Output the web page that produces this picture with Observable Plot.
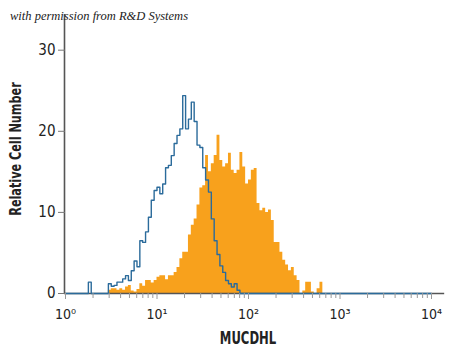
<!DOCTYPE html>
<html><head><meta charset="utf-8">
<script src="https://cdn.jsdelivr.net/npm/d3@7"></script>
<script src="https://cdn.jsdelivr.net/npm/@observablehq/plot@0.6"></script>
<style>
body{margin:0;background:#fff;}
#wrap{position:relative;width:450px;height:353px;}
#title{position:absolute;left:10px;top:9px;font:italic 12.5px "Liberation Serif","DejaVu Serif",serif;color:#222;white-space:nowrap;}
.lab{position:absolute;font-family:"DejaVu Sans Condensed","Liberation Sans",sans-serif;font-weight:bold;color:#222;white-space:nowrap;}
#ylab{left:15px;top:149px;font-size:16px;transform:translate(-50%,-50%) rotate(-90deg) scaleX(0.78);}
#xlab{left:248px;top:338px;font-size:17px;transform:translate(-50%,-50%) scaleX(0.76);}
</style></head><body>
<div id="wrap"><div id="title">with permission from R&amp;D Systems</div><div id="ylab" class="lab">Relative Cell Number</div><div id="xlab" class="lab">MUCDHL</div></div>
<script>
const binsPerDecade = 32;
const totalBins = 128;
const xMajorTicks = [1, 10, 100, 1000, 10000];
const xMajorLabels = ["10⁰", "10¹", "10²", "10³", "10⁴"];
const xMinorTicks = [2,3,4,5,6,7,8,9,20,30,40,50,60,70,80,90,200,300,400,500,600,700,800,900,2000,3000,4000,5000,6000,7000,8000,9000];
const yTicks = [0, 10, 20, 30];

// isotype control (blue outline), starting at bin 8
const controlStartBin = 8;
const controlCounts = [1.4,0,0,0,0,0,0,
  1.2,0.9,1.0,1.4,1.4,1.8,2.2,1.6,2.8,4.0,3.3,6.5,6.3,7.6,9.4,11.5,12.7,13.1,12.3,13.5,15.5,15.8,17,18.5,19.5,20.3,24.4,20.3,21.5,23.6,21.2,18.3,18,15.5,14.0,12.5,9.2,6.5,4.8,3.4,2.6,1.6,1.2,0.8,1.2,0.4];

// MUCDHL stained (orange filled), starting at bin 15
const stainedStartBin = 15;
const stainedCounts = [0.4,0.6,0.6,0.4,0.6,0.4,0.8,1.0,0.3,0.2,0.5,1.2,0.9,1.6,1.6,1.3,1.6,2.0,2.2,2.2,1.7,2.2,2.2,2.6,3.2,4.3,5.1,5.1,7.2,8.4,9.2,10.9,13,13.3,17,15.0,16.0,17,19.5,16.4,15.6,16,17.3,15.2,14.8,15.2,17.4,15.6,13.5,14,15.2,15.4,11.1,10.2,10.5,10,10.3,9,6.3,6.3,5.1,4.1,3.5,2.8,3.2,2.2,1.6,0,0.3,1.4,1.4,0.2,0,0.6,1.4];

function toSeries(start, counts) {
  return d3.range(totalBins + 1).map(i => ({
    x: Math.pow(10, i / binsPerDecade),
    y: (i >= start && i - start < counts.length) ? counts[i - start] : 0
  }));
}
const control = toSeries(controlStartBin, controlCounts);
const stained = toSeries(stainedStartBin, stainedCounts);

const axisEnd = Math.pow(10, 4.155);
const font = '"DejaVu Sans Condensed","Liberation Sans",sans-serif';

const chart = Plot.plot({
  width: 450, height: 353,
  marginLeft: 65, marginRight: 19, marginTop: 14, marginBottom: 60,
  x: {type: "log", domain: [1, 10000]},
  y: {domain: [0, 34.4]},
  style: {fontFamily: font, fontSize: "14px", color: "#222", background: "transparent"},
  marks: [
    Plot.areaY(stained, {x: "x", y: "y", curve: "step-after", fill: "#f8a11c"}),
    Plot.ruleX([1], {stroke: "#555", strokeWidth: 1.6, dx: -1}),
    Plot.ruleY([0], {x1: 1, x2: axisEnd, stroke: "#555", strokeWidth: 1.6, dx: -1}),
    Plot.line(control, {x: "x", y: "y", curve: "step-after", stroke: "#2b6b9b", strokeWidth: 1.4}),
    Plot.axisY({ticks: yTicks, tickSize: 7, tickPadding: 3, label: null, stroke: "#777", fontSize: 15}),
    Plot.axisX({ticks: xMajorTicks, tickFormat: (d) => xMajorLabels[xMajorTicks.indexOf(d)], tickSize: 6, tickPadding: 10, label: null, stroke: "#999", fontSize: 14}),
    Plot.axisX({ticks: xMinorTicks, tickFormat: () => "", tickSize: 5, label: null, stroke: "#999"})
  ]
});
document.getElementById("wrap").prepend(chart);
</script>
</body></html>
